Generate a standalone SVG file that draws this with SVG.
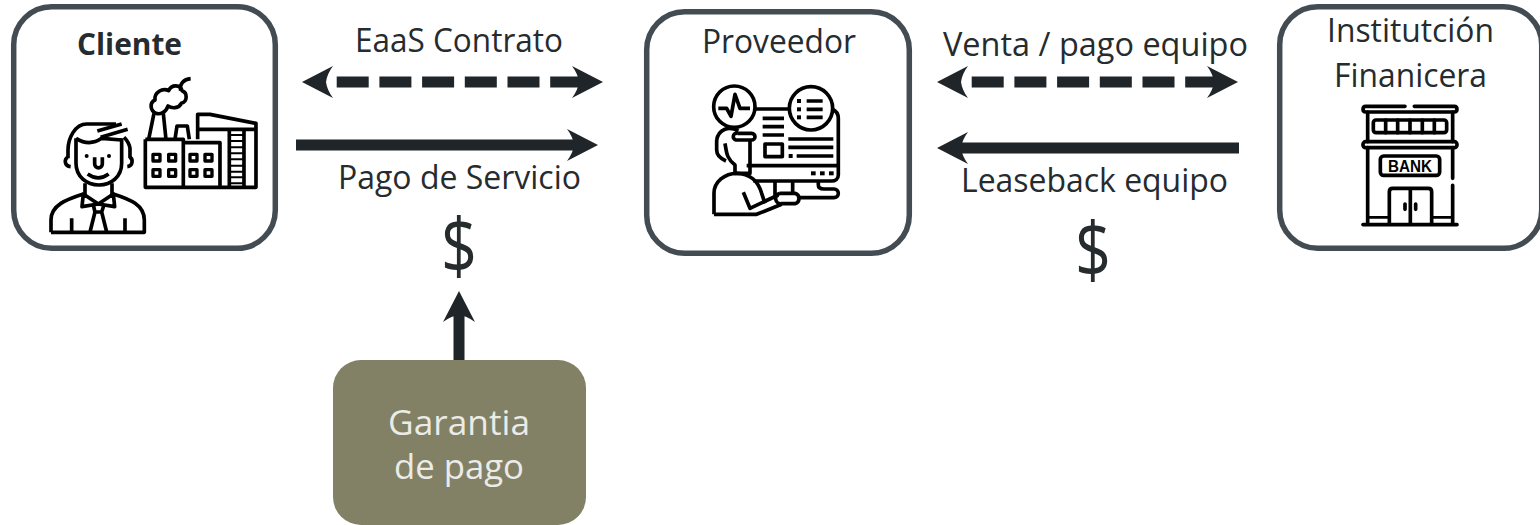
<svg xmlns="http://www.w3.org/2000/svg" width="1540" height="525" viewBox="0 0 1540 525">
<style>
.box{fill:#fff;stroke:#434c52;stroke-width:5.5}
.t{font-family:"Open Sans","Noto Sans","Liberation Sans",sans-serif;font-size:33px;fill:#262b2e;text-anchor:start}
.conn{stroke:#1f2528;stroke-width:11;fill:none}
.ic{fill:none;stroke:#000;stroke-width:11;stroke-linejoin:round}
.fillk{fill:#000;stroke:none}
</style>
<defs>
<marker id="head" markerUnits="userSpaceOnUse" markerWidth="34" markerHeight="34" viewBox="-8 -17 34 34" refX="0" refY="0" orient="auto-start-reverse">
<path d="M0,0 Q-1,-8 -7,-16 L24,0 L-7,16 Q-1,8 0,0 Z" fill="#1f2528"/>
</marker>
</defs>
<g id="connectors">
<line class="conn" x1="326" y1="82" x2="579" y2="82" stroke-dasharray="32 10.7" stroke-dashoffset="32" marker-start="url(#head)" marker-end="url(#head)"/>
<line class="conn" x1="296" y1="145" x2="574" y2="145" marker-end="url(#head)"/>
<line class="conn" x1="961" y1="82" x2="1214" y2="82" stroke-dasharray="32 10.7" stroke-dashoffset="32" marker-start="url(#head)" marker-end="url(#head)"/>
<line class="conn" x1="1239" y1="148" x2="961" y2="148" marker-end="url(#head)"/>
<line class="conn" x1="459" y1="361" x2="459" y2="315" marker-end="url(#head)"/>
</g>
<g id="cliente">
<rect class="box" x="13.7" y="6.7" width="261.6" height="241.6" rx="38"/>
<text class="t" x="77" y="55" textLength="105" lengthAdjust="spacingAndGlyphs" style="font-weight:700;font-size:31px">Cliente</text>
<g class="ic" transform="translate(40,70) scale(.3333)">
<path d="M108,205V280C108,320 140,345 177,345C214,345 245,320 245,280V205"/>
<path d="M84,265V240C84,205 105,162 140,162H228"/>
<path d="M270,265V235C268,222 262,212 252,202"/>
<path d="M108,205C135,222 160,222 185,205L245,210"/>
<path d="M172,183L245,162M182,202L263,178"/>
<path d="M84,262C72,265 72,288 92,290M268,262C280,265 280,288 262,290"/>
<circle class="fillk" cx="140" cy="258" r="6"/><circle class="fillk" cx="207" cy="258" r="6"/>
<path d="M164,262V282A11,11 0 0 0 187,282V262M143,312Q175,335 206,312"/>
<path d="M135,340V375M216,340V375"/>
<path d="M130,372L175,402L220,372L224,410L175,402L126,410Z"/>
<path d="M160,405L165,426H185L192,405M165,426L150,486M185,426L200,486"/>
<path d="M33,487H313V450C313,405 270,388 220,372M33,487V450C33,405 80,388 130,372"/>
<path d="M95,445V487M255,445V487"/>
<path d="M316,208H430V352M316,208V352H648V160L510,133H473V208M430,218H540V352M568,178V352M612,178V352M473,178H648"/>
<path d="M568,195H612M568,213H612M568,232H612M568,250H612M568,268H612M568,287H612M568,305H612M568,322H612M568,340H612" stroke-width="6"/>
<path d="M326,208L342,130M378,208L370,130M405,208L411,168H442L448,208"/>
<path d="M348,130C330,122 328,98 345,90C342,68 368,52 386,62C395,42 422,44 426,62C444,68 442,96 424,100C416,116 396,116 384,108C378,128 360,134 348,130M422,62C418,40 432,28 452,26"/>
<g stroke-width="10">
<rect x="339" y="253" width="21" height="20"/><rect x="386" y="253" width="21" height="20"/>
<rect x="339" y="299" width="21" height="20"/><rect x="386" y="299" width="21" height="20"/>
<rect x="450" y="253" width="21" height="20"/><rect x="495" y="253" width="21" height="20"/>
<rect x="450" y="299" width="21" height="20"/><rect x="495" y="299" width="21" height="20"/>
</g>
</g>
</g>
<g id="proveedor">
<rect class="box" x="646.7" y="11.7" width="262.6" height="241.6" rx="38"/>
<text class="t" x="702" y="53" textLength="154" lengthAdjust="spacingAndGlyphs">Proveedor</text>
<g class="ic" transform="translate(700,75) scale(.3333)">
<circle cx="103" cy="95" r="62"/>
<circle cx="333" cy="100" r="65"/>
<path d="M55,100H80L93,124L105,58L120,100H150"/>
<path d="M165,102H268M396,102C410,108 415,118 415,130V300C415,312 405,318 395,318H160M140,272H415"/>
<path d="M188,130H252M188,155H252M188,180H252M265,192H400M265,217H400M290,243H400"/>
<path d="M320,78H368M320,103H368M320,127H368"/>
<rect x="195" y="207" width="52" height="38"/>
<g class="fillk"><rect x="291" y="72" width="12" height="12"/><rect x="291" y="97" width="12" height="12"/><rect x="291" y="121" width="12" height="12"/><rect x="266" y="237" width="12" height="12"/><rect x="333" y="289" width="14" height="12"/><rect x="360" y="289" width="14" height="12"/><rect x="387" y="289" width="14" height="12"/></g>
<path d="M50,195C55,165 85,150 115,168M112,175H155A10,10 0 0 1 155,195H108A10,10 0 0 1 112,175"/>
<path d="M50,195V225C50,240 60,250 78,258M75,205C80,235 80,250 105,270V295H150V195"/>
<path d="M42,418V355C42,320 75,295 110,295C150,295 175,320 185,355L195,385"/>
<path d="M42,418H170L245,388M130,352L150,400L175,388L235,360"/>
<path d="M225,318V362M278,318V352M240,355H285A16,16 0 0 1 285,386H245A14,14 0 0 1 240,355"/>
<path d="M355,318V330C355,340 362,342 372,342H402A13,13 0 0 1 402,368H300"/>
</g>
</g>
<g id="institucion">
<rect class="box" x="1279.7" y="6.7" width="262" height="241.6" rx="38"/>
<text class="t" x="1327" y="42" textLength="167" lengthAdjust="spacingAndGlyphs">Institutción</text>
<text class="t" x="1334" y="87" textLength="153" lengthAdjust="spacingAndGlyphs">Finanicera</text>
<g class="ic" transform="translate(1355,100) scale(.3333)" stroke-linecap="round">
<path d="M150,19H32Q24,19 24,28Q24,36 32,36H298Q306,36 306,28Q306,19 298,19H178"/>
<path d="M38,36V125M293,36V125"/>
<rect x="55" y="60" width="220" height="38" rx="8"/>
<path d="M92,60V98M128,60V98M165,60V98M202,60V98M238,60V98"/>
<rect x="24" y="125" width="282" height="18" rx="8"/>
<path d="M38,143V368M293,143V235M293,256V368"/>
<rect x="76" y="168" width="178" height="58" rx="10"/>
<text x="165" y="215" text-anchor="middle" textLength="132" lengthAdjust="spacingAndGlyphs" font-family="'Liberation Sans',sans-serif" font-weight="700" font-size="52" fill="#000" stroke="none">BANK</text>
<path d="M103,372V275Q103,265 113,265H220Q230,265 230,275V372M166,265V372"/>
<path d="M150,312V328M182,312V328"/>
<path d="M24,374H306"/>
<path d="M40,352H100M232,352H290" stroke-width="8"/>
</g>
</g>
<g id="etiquetas">
<text class="t" x="355" y="52" textLength="208" lengthAdjust="spacingAndGlyphs">EaaS Contrato</text>
<text class="t" x="338" y="189" textLength="243" lengthAdjust="spacingAndGlyphs">Pago de Servicio</text>
<text class="t" x="943" y="56" textLength="305" lengthAdjust="spacingAndGlyphs">Venta / pago equipo</text>
<text class="t" x="961" y="192" textLength="267" lengthAdjust="spacingAndGlyphs">Leaseback equipo</text>
<text class="t" x="441" y="273" style="font-size:76px" textLength="36" lengthAdjust="spacingAndGlyphs">$</text>
<text class="t" x="1075" y="277" style="font-size:76px" textLength="36" lengthAdjust="spacingAndGlyphs">$</text>
</g>
<g id="garantia">
<rect x="333" y="360" width="253" height="165" rx="28" fill="#828165"/>
<text class="t" x="388" y="435" textLength="142" lengthAdjust="spacingAndGlyphs" style="fill:#ebebe8;font-size:34px">Garantia</text>
<text class="t" x="394" y="479" textLength="130" lengthAdjust="spacingAndGlyphs" style="fill:#ebebe8;font-size:34px">de pago</text>
</g>
</svg>
